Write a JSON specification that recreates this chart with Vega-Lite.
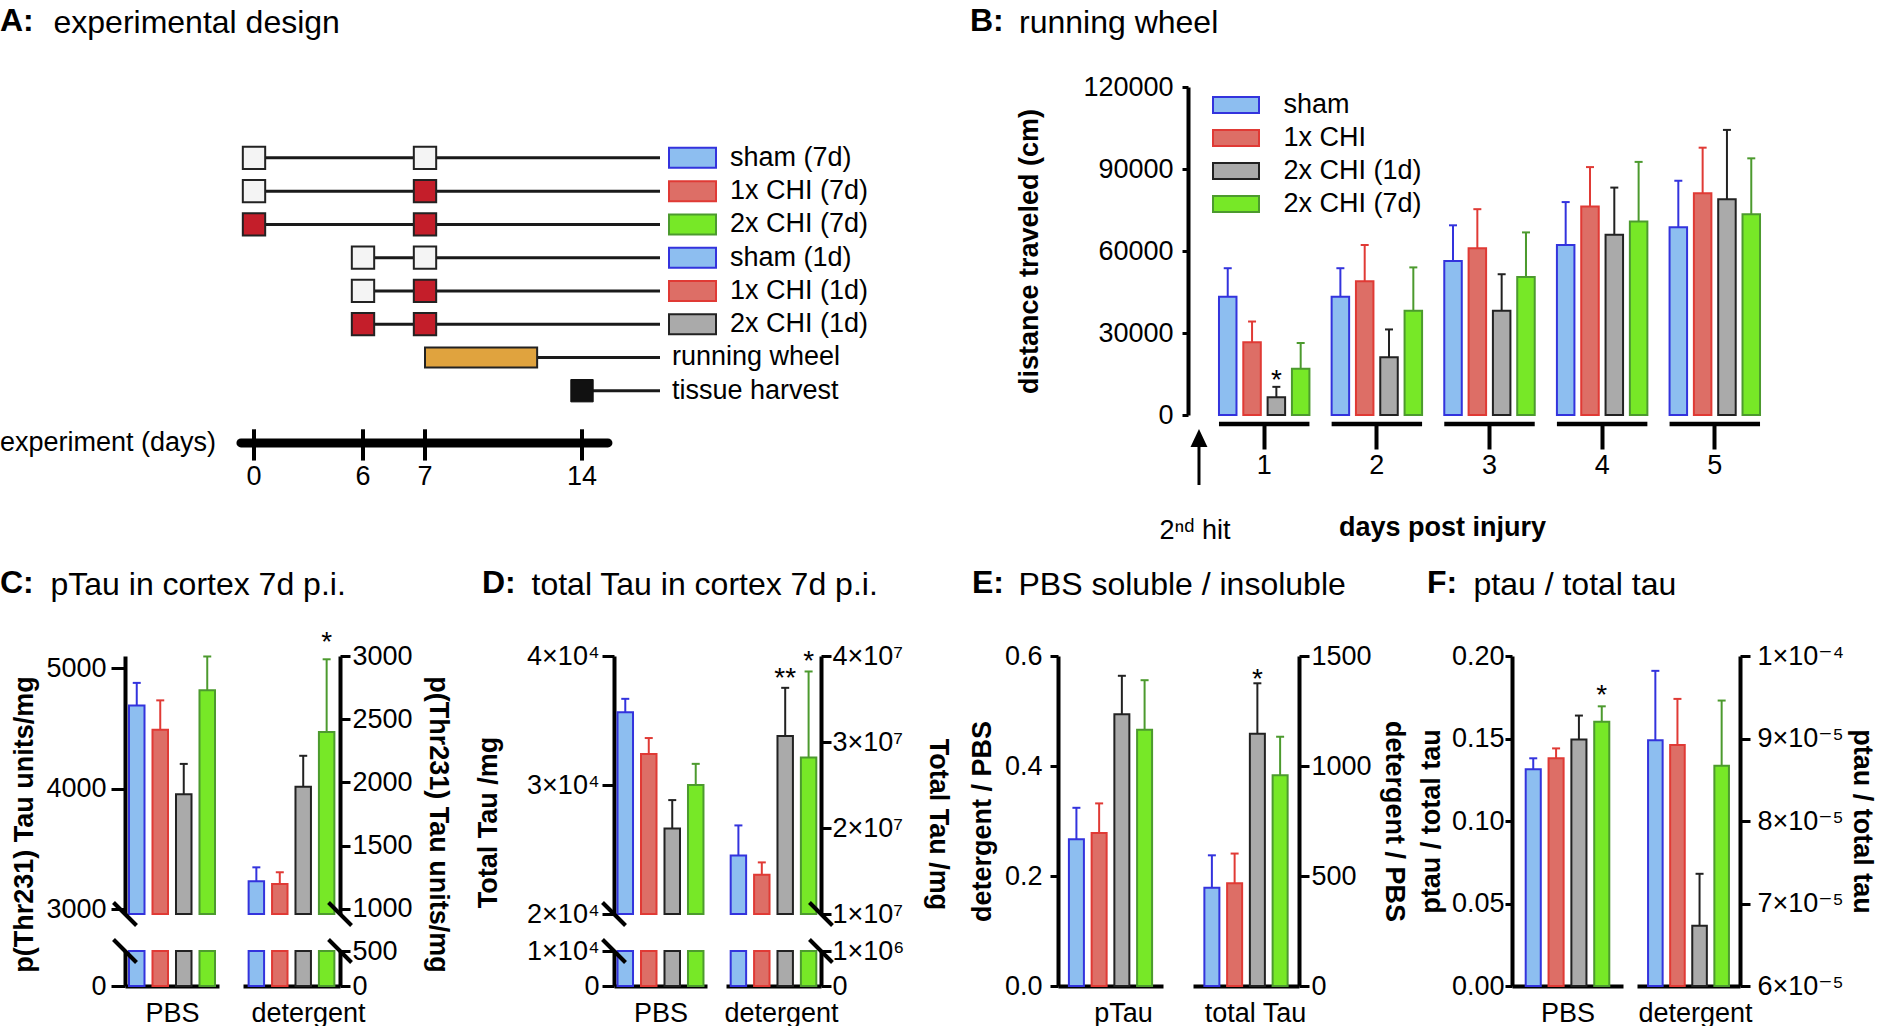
{
 "$schema": "https://vega.github.io/schema/vega-lite/v6.json",
 "padding": {"left": 0, "top": 5, "right": 0, "bottom": 0},
 "background": "white",
 "datasets": {
  "running": [
   {"day":"1","grp":"sham","v":43300,"hi":53700,"sig":""},
   {"day":"1","grp":"1x CHI","v":26600,"hi":34200,"sig":""},
   {"day":"1","grp":"2x CHI (1d)","v":6500,"hi":10300,"sig":"*"},
   {"day":"1","grp":"2x CHI (7d)","v":16950,"hi":26350,"sig":""},
   {"day":"2","grp":"sham","v":43300,"hi":53700,"sig":""},
   {"day":"2","grp":"1x CHI","v":48900,"hi":62200,"sig":""},
   {"day":"2","grp":"2x CHI (1d)","v":21100,"hi":31300,"sig":""},
   {"day":"2","grp":"2x CHI (7d)","v":38100,"hi":54000,"sig":""},
   {"day":"3","grp":"sham","v":56350,"hi":69400,"sig":""},
   {"day":"3","grp":"1x CHI","v":61000,"hi":75300,"sig":""},
   {"day":"3","grp":"2x CHI (1d)","v":38100,"hi":51500,"sig":""},
   {"day":"3","grp":"2x CHI (7d)","v":50500,"hi":66800,"sig":""},
   {"day":"4","grp":"sham","v":62200,"hi":77900,"sig":""},
   {"day":"4","grp":"1x CHI","v":76300,"hi":90700,"sig":""},
   {"day":"4","grp":"2x CHI (1d)","v":65900,"hi":83200,"sig":""},
   {"day":"4","grp":"2x CHI (7d)","v":70800,"hi":92600,"sig":""},
   {"day":"5","grp":"sham","v":68700,"hi":85700,"sig":""},
   {"day":"5","grp":"1x CHI","v":81100,"hi":97800,"sig":""},
   {"day":"5","grp":"2x CHI (1d)","v":78900,"hi":104300,"sig":""},
   {"day":"5","grp":"2x CHI (7d)","v":73400,"hi":93900,"sig":""}
  ],
  "tau": [
   {"panel":"C","frac":"PBS","grp":"sham","v":4690,"hi":4877,"sig":""},
   {"panel":"C","frac":"PBS","grp":"1x CHI","v":4488,"hi":4732,"sig":""},
   {"panel":"C","frac":"PBS","grp":"2x CHI (1d)","v":3953,"hi":4205,"sig":""},
   {"panel":"C","frac":"PBS","grp":"2x CHI (7d)","v":4816,"hi":5096,"sig":""},
   {"panel":"C","frac":"detergent","grp":"sham","v":1218,"hi":1329,"sig":""},
   {"panel":"C","frac":"detergent","grp":"1x CHI","v":1197,"hi":1290,"sig":""},
   {"panel":"C","frac":"detergent","grp":"2x CHI (1d)","v":1966,"hi":2211,"sig":""},
   {"panel":"C","frac":"detergent","grp":"2x CHI (7d)","v":2400,"hi":2974,"sig":"*"},
   {"panel":"D","frac":"PBS","grp":"sham","v":35640,"hi":36680,"sig":""},
   {"panel":"D","frac":"PBS","grp":"1x CHI","v":32400,"hi":33640,"sig":""},
   {"panel":"D","frac":"PBS","grp":"2x CHI (1d)","v":26630,"hi":28830,"sig":""},
   {"panel":"D","frac":"PBS","grp":"2x CHI (7d)","v":30000,"hi":31640,"sig":""},
   {"panel":"D","frac":"detergent","grp":"sham","v":16800000,"hi":20300000,"sig":""},
   {"panel":"D","frac":"detergent","grp":"1x CHI","v":14560000,"hi":16000000,"sig":""},
   {"panel":"D","frac":"detergent","grp":"2x CHI (1d)","v":30700000,"hi":36300000,"sig":"**"},
   {"panel":"D","frac":"detergent","grp":"2x CHI (7d)","v":28200000,"hi":38200000,"sig":"*"},
   {"panel":"E","frac":"pTau","grp":"sham","v":0.267,"hi":0.324,"sig":""},
   {"panel":"E","frac":"pTau","grp":"1x CHI","v":0.278,"hi":0.332,"sig":""},
   {"panel":"E","frac":"pTau","grp":"2x CHI (1d)","v":0.494,"hi":0.564,"sig":""},
   {"panel":"E","frac":"pTau","grp":"2x CHI (7d)","v":0.466,"hi":0.556,"sig":""},
   {"panel":"E","frac":"total Tau","grp":"sham","v":447,"hi":594,"sig":""},
   {"panel":"E","frac":"total Tau","grp":"1x CHI","v":467,"hi":602,"sig":""},
   {"panel":"E","frac":"total Tau","grp":"2x CHI (1d)","v":1147,"hi":1376,"sig":"*"},
   {"panel":"E","frac":"total Tau","grp":"2x CHI (7d)","v":958,"hi":1133,"sig":""},
   {"panel":"F","frac":"PBS","grp":"sham","v":0.1314,"hi":0.138,"sig":""},
   {"panel":"F","frac":"PBS","grp":"1x CHI","v":0.138,"hi":0.144,"sig":""},
   {"panel":"F","frac":"PBS","grp":"2x CHI (1d)","v":0.1494,"hi":0.1639,"sig":""},
   {"panel":"F","frac":"PBS","grp":"2x CHI (7d)","v":0.1601,"hi":0.1695,"sig":"*"},
   {"panel":"F","frac":"detergent","grp":"sham","v":0.0000898,"hi":0.0000982,"sig":""},
   {"panel":"F","frac":"detergent","grp":"1x CHI","v":0.0000892,"hi":0.0000948,"sig":""},
   {"panel":"F","frac":"detergent","grp":"2x CHI (1d)","v":0.0000673,"hi":0.0000736,"sig":""},
   {"panel":"F","frac":"detergent","grp":"2x CHI (7d)","v":0.0000867,"hi":0.0000946,"sig":""}
  ],
  "segments": [
   {"lane":1,"from":0,"to":18},{"lane":2,"from":0,"to":18},{"lane":3,"from":0,"to":18},
   {"lane":4,"from":6,"to":18},{"lane":5,"from":6,"to":18},{"lane":6,"from":6,"to":18},
   {"lane":7,"from":12,"to":18},{"lane":8,"from":14,"to":18}
  ],
  "hits": [
   {"lane":1,"day":0,"hit":false},{"lane":1,"day":7,"hit":false},
   {"lane":2,"day":0,"hit":false},{"lane":2,"day":7,"hit":true},
   {"lane":3,"day":0,"hit":true},{"lane":3,"day":7,"hit":true},
   {"lane":4,"day":6,"hit":false},{"lane":4,"day":7,"hit":false},
   {"lane":5,"day":6,"hit":false},{"lane":5,"day":7,"hit":true},
   {"lane":6,"day":6,"hit":true},{"lane":6,"day":7,"hit":true}
  ],
  "lanes": [
   {"lane":1,"label":"sham (7d)","grp":"sham"},
   {"lane":2,"label":"1x CHI (7d)","grp":"1x CHI"},
   {"lane":3,"label":"2x CHI (7d)","grp":"2x CHI (7d)"},
   {"lane":4,"label":"sham (1d)","grp":"sham"},
   {"lane":5,"label":"1x CHI (1d)","grp":"1x CHI"},
   {"lane":6,"label":"2x CHI (1d)","grp":"2x CHI (1d)"}
  ],
  "events": [
   {"lane":7,"label":"running wheel","start":7,"stop":12},
   {"lane":8,"label":"tissue harvest","start":14}
  ],
  "ticksA": [{"day":0},{"day":6},{"day":7},{"day":14}],
  "timeline": [{"from":-0.72,"to":15.33,"label":"experiment (days)"}],
  "notes": [{"day":"1","note":"2ⁿᵈ hit"}]
 },
 "vconcat": [
  {
   "hconcat": [
    {
     "width": 775, "height": 328,
     "title": {"text":"A:","dx":-125,"offset":-32},
     "layer": [
      {"data":{"name":"segments"},"mark":{"type":"rule","strokeWidth":3,"color":"#1a1a1a"},
       "encoding":{"x":{"field":"from","type":"quantitative","scale":{"domain":[-14,0,6,7,14,18,22],"range":[-125,129,238,300,457,535,615],"zero":false,"nice":false},
                        "axis":{"orient":"top","domain":false,"ticks":false,"labels":false,"grid":false,"title":"experimental design","titleX":-72,"titleY":-55,"titleAlign":"left","titleBaseline":"alphabetic","titleFontSize":32,"titleFontWeight":"normal"}},
                   "x2":{"field":"to"},
                   "y":{"field":"lane","type":"quantitative","scale":{"domain":[-0.98,8.58],"reverse":true,"zero":false,"nice":false},"axis":null}}},
      {"data":{"name":"hits"},"transform":[{"filter":"!datum.hit"}],
       "mark":{"type":"point","shape":"square","size":500,"filled":true,"fill":"#F4F4F4","stroke":"#222222","strokeWidth":2,"opacity":1},
       "encoding":{"x":{"field":"day","type":"quantitative"},"y":{"field":"lane","type":"quantitative"}}},
      {"data":{"name":"hits"},"transform":[{"filter":"datum.hit"}],
       "mark":{"type":"point","shape":"square","size":500,"filled":true,"fill":"#C41E2A","stroke":"#222222","strokeWidth":2,"opacity":1},
       "encoding":{"x":{"field":"day","type":"quantitative"},"y":{"field":"lane","type":"quantitative"}}},
      {"data":{"name":"events"},"transform":[{"filter":"datum.stop != null"}],
       "mark":{"type":"bar","height":20,"fill":"#E0A33E","stroke":"#222222","strokeWidth":2},
       "encoding":{"x":{"field":"start","type":"quantitative"},"x2":{"field":"stop"},"y":{"field":"lane","type":"quantitative"}}},
      {"data":{"name":"events"},"transform":[{"filter":"datum.stop == null"}],
       "mark":{"type":"point","shape":"square","size":500,"filled":true,"fill":"#111111","stroke":"#111111","strokeWidth":1,"opacity":1},
       "encoding":{"x":{"field":"start","type":"quantitative"},"y":{"field":"lane","type":"quantitative"}}},
      {"data":{"name":"events"},"mark":{"type":"text","align":"left","baseline":"middle","fontSize":27},
       "encoding":{"x":{"datum":18.6},"y":{"field":"lane","type":"quantitative"},"text":{"field":"label"}}},
      {"data":{"name":"lanes"},"mark":{"type":"bar","height":20,"strokeWidth":2},
       "encoding":{"x":{"datum":18.45},"x2":{"datum":20.8},"y":{"field":"lane","type":"quantitative"},
        "fill":{"field":"grp","type":"nominal","scale":{"domain":["sham","1x CHI","2x CHI (1d)","2x CHI (7d)"],"range":["#8DBEF0","#DD6E66","#AAAAAA","#77E827"]},"legend":null},
        "stroke":{"field":"grp","type":"nominal","scale":{"domain":["sham","1x CHI","2x CHI (1d)","2x CHI (7d)"],"range":["#3333DD","#E03A35","#222222","#4C9A2E"]},"legend":null}}},
      {"data":{"name":"lanes"},"mark":{"type":"text","align":"left","baseline":"middle","fontSize":27},
       "encoding":{"x":{"datum":21.5},"y":{"field":"lane","type":"quantitative"},"text":{"field":"label"}}},
      {"data":{"name":"timeline"},"mark":{"type":"rule","strokeWidth":9,"strokeCap":"round","color":"#000000"},
       "encoding":{"x":{"field":"from","type":"quantitative"},"x2":{"field":"to"},"y":{"datum":9.57}}},
      {"data":{"name":"timeline"},"mark":{"type":"text","align":"left","baseline":"middle","fontSize":27},
       "encoding":{"x":{"datum":-14},"y":{"datum":9.57},"text":{"field":"label"}}},
      {"data":{"name":"ticksA"},"mark":{"type":"rule","strokeWidth":4,"color":"#000000"},
       "encoding":{"x":{"field":"day","type":"quantitative"},"y":{"datum":9.16},"y2":{"datum":10.1}}},
      {"data":{"name":"ticksA"},"mark":{"type":"text","baseline":"middle","fontSize":27},
       "encoding":{"x":{"field":"day","type":"quantitative"},"y":{"datum":10.6},"text":{"field":"day","type":"quantitative"}}}
     ]
    },
    {
     "width": 603, "height": 328,
     "title": {"text":"B:","dx":-218,"offset":-32},
     "resolve": {"axis": {"x": "independent"}},
     "layer": [
      {"data":{"name":"running"},"mark":{"type":"bar","strokeWidth":2},
       "encoding":{
        "x":{"field":"day","type":"ordinal","scale":{"domain":["1","2","3","4","5"],"paddingInner":0.197,"paddingOuter":0.275},
             "axis":{"title":"days post injury","domain":false,"ticks":true,"tickSize":25,"tickWidth":4,"labelAngle":0,"labelPadding":3,"offset":9,"titlePadding":36,"titleX":254}},
        "xOffset":{"field":"grp","type":"nominal","scale":{"domain":["sham","1x CHI","2x CHI (1d)","2x CHI (7d)"],"paddingInner":0.28,"paddingOuter":0}},
        "y":{"field":"v","type":"quantitative","scale":{"domain":[0,120000],"nice":false},
             "axis":{"values":[0,30000,60000,90000,120000],"format":"d","title":"distance traveled (cm)","tickSize":6,"labelPadding":9,"titlePadding":39.5}},
        "fill":{"field":"grp","type":"nominal","scale":{"domain":["sham","1x CHI","2x CHI (1d)","2x CHI (7d)"],"range":["#8DBEF0","#DD6E66","#AAAAAA","#77E827"]},
                "legend":{"orient":"none","legendX":34.5,"legendY":4.5,"title":null,"symbolType":"M-2,-0.7L2,-0.7L2,0.7L-2,0.7Z","symbolSize":529,"symbolStrokeWidth":2,"labelFontSize":27,"labelOffset":34,"rowPadding":5,"padding":0,"labelColor":"#000000"}},
        "stroke":{"field":"grp","type":"nominal","scale":{"domain":["sham","1x CHI","2x CHI (1d)","2x CHI (7d)"],"range":["#3333DD","#E03A35","#222222","#4C9A2E"]},
                "legend":{"orient":"none","legendX":34.5,"legendY":4.5,"title":null,"symbolType":"M-2,-0.7L2,-0.7L2,0.7L-2,0.7Z","symbolSize":529,"symbolStrokeWidth":2,"labelFontSize":27,"labelOffset":34,"rowPadding":5,"padding":0,"labelColor":"#000000"}}
       }},
      {"data":{"name":"running"},"mark":{"type":"rule","strokeWidth":2},
       "encoding":{"x":{"field":"day","type":"ordinal","axis":{"orient":"top","domain":false,"ticks":false,"labels":false,"title":"running wheel","titleX":-169.5,"titleY":-55,"titleAlign":"left","titleBaseline":"alphabetic","titleFontSize":32,"titleFontWeight":"normal"}},
        "xOffset":{"field":"grp","type":"nominal"},
        "y":{"field":"v","type":"quantitative"},"y2":{"field":"hi"},
        "stroke":{"field":"grp","type":"nominal","scale":{"domain":["sham","1x CHI","2x CHI (1d)","2x CHI (7d)"],"range":["#3333DD","#E03A35","#222222","#4C9A2E"]}}}},
      {"data":{"name":"running"},"mark":{"type":"point","shape":"M-1,0L1,0","size":64,"strokeWidth":2,"filled":false,"opacity":1},
       "encoding":{"x":{"field":"day","type":"ordinal","axis":null},"xOffset":{"field":"grp","type":"nominal"},
        "y":{"field":"hi","type":"quantitative"},
        "stroke":{"field":"grp","type":"nominal","scale":{"domain":["sham","1x CHI","2x CHI (1d)","2x CHI (7d)"],"range":["#3333DD","#E03A35","#222222","#4C9A2E"]}}}},
      {"data":{"name":"running"},"mark":{"type":"text","fontSize":28,"dy":-6},
       "encoding":{"x":{"field":"day","type":"ordinal","axis":null},"xOffset":{"field":"grp","type":"nominal"},
        "y":{"field":"hi","type":"quantitative"},"text":{"field":"sig"}}},
      {"data":{"name":"running"},"transform":[{"filter":"datum.grp === 'sham'"}],"mark":{"type":"bar","color":"#000000"},
       "encoding":{"x":{"field":"day","type":"ordinal","axis":null},"y":{"datum":-2500},"y2":{"datum":-4100}}},
      {"data":{"name":"notes"},"mark":{"type":"rule","strokeWidth":3,"color":"#000000"},
       "encoding":{"x":{"field":"day","type":"ordinal","bandPosition":-0.221,"axis":null},"y":{"datum":-11700},"y2":{"datum":-25600}}},
      {"data":{"name":"notes"},"mark":{"type":"point","shape":"M0,-1L0.47,0L-0.47,0Z","size":1296,"filled":true,"color":"#000000","opacity":1},
       "encoding":{"x":{"field":"day","type":"ordinal","bandPosition":-0.221,"axis":null},"y":{"datum":-11700}}},
      {"data":{"name":"notes"},"mark":{"type":"text","fontSize":27,"baseline":"alphabetic"},
       "encoding":{"x":{"field":"day","type":"ordinal","bandPosition":-0.265,"axis":null},"y":{"datum":-45400},"text":{"field":"note"}}}
     ]
    }
   ],
   "spacing": 70,
   "resolve": {"scale": {"fill": "independent", "stroke": "independent"}}
  },
  {
   "hconcat": [
    {
     "hconcat": [
      {
       "width": 94, "height": 330,
       "data": {"name":"tau"},
       "transform": [{"filter":"datum.panel === 'C' && datum.frac === 'PBS'"}],
       "title": {"text":"C:","dx":-125,"offset":-32},
       "resolve": {"scale": {"y":"independent"}, "axis": {"x":"independent","y":"independent"}},
       "layer": [
        {"layer": [
          {"mark":{"type":"bar","strokeWidth":2},
           "encoding":{"x":{"field":"grp","type":"nominal","scale":{"domain":["sham","1x CHI","2x CHI (1d)","2x CHI (7d)"],"paddingInner":0.34,"paddingOuter":0.17},
                            "axis":{"orient":"top","domain":false,"ticks":false,"labels":false,"title":"pTau in cortex 7d p.i.","titleX":-75,"titleY":-62,"titleAlign":"left","titleBaseline":"alphabetic","titleFontSize":32,"titleFontWeight":"normal"}},
                       "y":{"field":"v","type":"quantitative","scale":{"domain":[2960,5100],"range":[258,0],"nice":false,"zero":false},
                            "axis":{"orient":"left","values":[3000,4000,5000],"format":"d","title":"p(Thr231) Tau units/mg","titleY":168,"tickSize":14,"labelPadding":5,"titlePadding":7.5}},
                       "y2":{"datum":2960},
                       "fill":{"field":"grp","type":"nominal","scale":{"domain":["sham","1x CHI","2x CHI (1d)","2x CHI (7d)"],"range":["#8DBEF0","#DD6E66","#AAAAAA","#77E827"]},"legend":null},
                       "stroke":{"field":"grp","type":"nominal","scale":{"domain":["sham","1x CHI","2x CHI (1d)","2x CHI (7d)"],"range":["#3333DD","#E03A35","#222222","#4C9A2E"]},"legend":null}}},
          {"mark":{"type":"rule","strokeWidth":2},
           "encoding":{"x":{"field":"grp","type":"nominal"},"y":{"field":"v","type":"quantitative"},"y2":{"field":"hi"},
                       "stroke":{"field":"grp","type":"nominal","scale":{"domain":["sham","1x CHI","2x CHI (1d)","2x CHI (7d)"],"range":["#3333DD","#E03A35","#222222","#4C9A2E"]},"legend":null}}},
          {"mark":{"type":"point","shape":"M-1,0L1,0","size":64,"strokeWidth":2,"filled":false,"opacity":1},
           "encoding":{"x":{"field":"grp","type":"nominal"},"y":{"field":"hi","type":"quantitative"},
                       "stroke":{"field":"grp","type":"nominal","scale":{"domain":["sham","1x CHI","2x CHI (1d)","2x CHI (7d)"],"range":["#3333DD","#E03A35","#222222","#4C9A2E"]},"legend":null}}},
          {"transform":[{"filter":"datum.grp === 'sham'"}],
           "mark":{"type":"point","shape":"M-1,-1L1,1","size":529,"filled":false,"stroke":"#000000","strokeWidth":4,"opacity":1},
           "encoding":{"x":{"field":"grp","type":"nominal","bandPosition":-0.258},"y":{"datum":2960}}}
        ]},
        {"layer": [
          {"mark":{"type":"bar","strokeWidth":2},
           "encoding":{"x":{"field":"grp","type":"nominal","axis":{"title":"PBS","labels":false,"ticks":false,"titleFontWeight":"normal","titlePadding":14}},
                       "y":{"datum":1000,"type":"quantitative","scale":{"domain":[0,1000],"range":[330,295],"nice":false},"axis":{"orient":"left","values":[0],"title":null,"tickSize":14,"labelPadding":5}},
                       "y2":{"datum":0},
                       "fill":{"field":"grp","type":"nominal","scale":{"domain":["sham","1x CHI","2x CHI (1d)","2x CHI (7d)"],"range":["#8DBEF0","#DD6E66","#AAAAAA","#77E827"]},"legend":null},
                       "stroke":{"field":"grp","type":"nominal","scale":{"domain":["sham","1x CHI","2x CHI (1d)","2x CHI (7d)"],"range":["#3333DD","#E03A35","#222222","#4C9A2E"]},"legend":null}}},
          {"transform":[{"filter":"datum.grp === 'sham'"}],
           "mark":{"type":"point","shape":"M-1,-1L1,1","size":529,"filled":false,"stroke":"#000000","strokeWidth":4,"opacity":1},
           "encoding":{"x":{"field":"grp","type":"nominal","bandPosition":-0.258},"y":{"datum":1000}}}
        ]}
       ]
      },
      {
       "width": 97, "height": 330,
       "data": {"name":"tau"},
       "transform": [{"filter":"datum.panel === 'C' && datum.frac === 'detergent'"}],
       "resolve": {"scale": {"y":"independent"}, "axis": {"x":"independent","y":"independent"}},
       "layer": [
        {"layer": [
          {"mark":{"type":"bar","strokeWidth":2},
           "encoding":{"x":{"field":"grp","type":"nominal","scale":{"domain":["sham","1x CHI","2x CHI (1d)","2x CHI (7d)"],"paddingInner":0.34,"paddingOuter":0.24},"axis":null},
                       "y":{"field":"v","type":"quantitative","scale":{"domain":[960,3000],"range":[258,0],"nice":false,"zero":false},
                            "axis":{"orient":"right","values":[1000,1500,2000,2500,3000],"format":"d","title":"p(Thr231) Tau units/mg","titleY":168,"tickSize":10,"labelPadding":2,"titlePadding":11.5}},
                       "y2":{"datum":960},
                       "fill":{"field":"grp","type":"nominal","scale":{"domain":["sham","1x CHI","2x CHI (1d)","2x CHI (7d)"],"range":["#8DBEF0","#DD6E66","#AAAAAA","#77E827"]},"legend":null},
                       "stroke":{"field":"grp","type":"nominal","scale":{"domain":["sham","1x CHI","2x CHI (1d)","2x CHI (7d)"],"range":["#3333DD","#E03A35","#222222","#4C9A2E"]},"legend":null}}},
          {"mark":{"type":"rule","strokeWidth":2},
           "encoding":{"x":{"field":"grp","type":"nominal","axis":null},"y":{"field":"v","type":"quantitative"},"y2":{"field":"hi"},
                       "stroke":{"field":"grp","type":"nominal","scale":{"domain":["sham","1x CHI","2x CHI (1d)","2x CHI (7d)"],"range":["#3333DD","#E03A35","#222222","#4C9A2E"]},"legend":null}}},
          {"mark":{"type":"point","shape":"M-1,0L1,0","size":64,"strokeWidth":2,"filled":false,"opacity":1},
           "encoding":{"x":{"field":"grp","type":"nominal","axis":null},"y":{"field":"hi","type":"quantitative"},
                       "stroke":{"field":"grp","type":"nominal","scale":{"domain":["sham","1x CHI","2x CHI (1d)","2x CHI (7d)"],"range":["#3333DD","#E03A35","#222222","#4C9A2E"]},"legend":null}}},
          {"mark":{"type":"text","fontSize":28,"dy":-16},
           "encoding":{"x":{"field":"grp","type":"nominal","axis":null},"y":{"field":"hi","type":"quantitative"},"text":{"field":"sig"}}},
          {"transform":[{"filter":"datum.grp === '2x CHI (7d)'"}],
           "mark":{"type":"point","shape":"M-1,-1L1,1","size":529,"filled":false,"stroke":"#000000","strokeWidth":4,"opacity":1},
           "encoding":{"x":{"field":"grp","type":"nominal","bandPosition":1.365,"axis":null},"y":{"datum":960}}}
        ]},
        {"layer": [
          {"mark":{"type":"bar","strokeWidth":2},
           "encoding":{"x":{"field":"grp","type":"nominal","axis":{"title":"detergent","labels":false,"ticks":false,"titleFontWeight":"normal","titlePadding":14,"titleX":65}},
                       "y":{"datum":500,"type":"quantitative","scale":{"domain":[0,500],"range":[330,295],"nice":false},"axis":{"orient":"right","values":[0,500],"title":null,"tickSize":10,"labelPadding":2}},
                       "y2":{"datum":0},
                       "fill":{"field":"grp","type":"nominal","scale":{"domain":["sham","1x CHI","2x CHI (1d)","2x CHI (7d)"],"range":["#8DBEF0","#DD6E66","#AAAAAA","#77E827"]},"legend":null},
                       "stroke":{"field":"grp","type":"nominal","scale":{"domain":["sham","1x CHI","2x CHI (1d)","2x CHI (7d)"],"range":["#3333DD","#E03A35","#222222","#4C9A2E"]},"legend":null}}},
          {"transform":[{"filter":"datum.grp === '2x CHI (7d)'"}],
           "mark":{"type":"point","shape":"M-1,-1L1,1","size":529,"filled":false,"stroke":"#000000","strokeWidth":4,"opacity":1},
           "encoding":{"x":{"field":"grp","type":"nominal","bandPosition":1.365},"y":{"datum":500}}}
        ]}
       ]
      }
     ],
     "spacing": 24, "bounds": "flush"
    },
    {
     "hconcat": [
      {
       "hconcat": [
        {
         "width": 93, "height": 330,
         "data": {"name":"tau"},
         "transform": [{"filter":"datum.panel === 'D' && datum.frac === 'PBS'"}],
         "title": {"text":"D:","dx":-132,"offset":-32},
         "resolve": {"scale": {"y":"independent"}, "axis": {"x":"independent","y":"independent"}},
         "layer": [
          {"layer": [
            {"mark":{"type":"bar","strokeWidth":2},
             "encoding":{"x":{"field":"grp","type":"nominal","scale":{"domain":["sham","1x CHI","2x CHI (1d)","2x CHI (7d)"],"paddingInner":0.34,"paddingOuter":0.15},
                              "axis":{"orient":"top","domain":false,"ticks":false,"labels":false,"title":"total Tau in cortex 7d p.i.","titleX":-83,"titleY":-62,"titleAlign":"left","titleBaseline":"alphabetic","titleFontSize":32,"titleFontWeight":"normal"}},
                         "y":{"field":"v","type":"quantitative","scale":{"domain":[20000,40000],"range":[258,0],"nice":false,"zero":false},
                              "axis":{"orient":"left","values":[20000,30000,40000],"labelExpr":"format(datum.value/10000,'d') + '×10⁴'","title":"Total Tau /mg","titleY":166,"tickSize":12,"labelPadding":3,"titlePadding":24}},
                         "y2":{"datum":20000},
                         "fill":{"field":"grp","type":"nominal","scale":{"domain":["sham","1x CHI","2x CHI (1d)","2x CHI (7d)"],"range":["#8DBEF0","#DD6E66","#AAAAAA","#77E827"]},"legend":null},
                         "stroke":{"field":"grp","type":"nominal","scale":{"domain":["sham","1x CHI","2x CHI (1d)","2x CHI (7d)"],"range":["#3333DD","#E03A35","#222222","#4C9A2E"]},"legend":null}}},
            {"mark":{"type":"rule","strokeWidth":2},
             "encoding":{"x":{"field":"grp","type":"nominal"},"y":{"field":"v","type":"quantitative"},"y2":{"field":"hi"},
                         "stroke":{"field":"grp","type":"nominal","scale":{"domain":["sham","1x CHI","2x CHI (1d)","2x CHI (7d)"],"range":["#3333DD","#E03A35","#222222","#4C9A2E"]},"legend":null}}},
            {"mark":{"type":"point","shape":"M-1,0L1,0","size":64,"strokeWidth":2,"filled":false,"opacity":1},
             "encoding":{"x":{"field":"grp","type":"nominal"},"y":{"field":"hi","type":"quantitative"},
                         "stroke":{"field":"grp","type":"nominal","scale":{"domain":["sham","1x CHI","2x CHI (1d)","2x CHI (7d)"],"range":["#3333DD","#E03A35","#222222","#4C9A2E"]},"legend":null}}},
            {"transform":[{"filter":"datum.grp === 'sham'"}],
             "mark":{"type":"point","shape":"M-1,-1L1,1","size":529,"filled":false,"stroke":"#000000","strokeWidth":4,"opacity":1},
             "encoding":{"x":{"field":"grp","type":"nominal","bandPosition":-0.227},"y":{"datum":20000}}}
          ]},
          {"layer": [
            {"mark":{"type":"bar","strokeWidth":2},
             "encoding":{"x":{"field":"grp","type":"nominal","axis":{"title":"PBS","labels":false,"ticks":false,"titleFontWeight":"normal","titlePadding":14}},
                         "y":{"datum":10000,"type":"quantitative","scale":{"domain":[0,10000],"range":[330,295],"nice":false},"axis":{"orient":"left","values":[0,10000],"labelExpr":"datum.value == 0 ? '0' : '1×10⁴'","title":null,"tickSize":12,"labelPadding":3}},
                         "y2":{"datum":0},
                         "fill":{"field":"grp","type":"nominal","scale":{"domain":["sham","1x CHI","2x CHI (1d)","2x CHI (7d)"],"range":["#8DBEF0","#DD6E66","#AAAAAA","#77E827"]},"legend":null},
                         "stroke":{"field":"grp","type":"nominal","scale":{"domain":["sham","1x CHI","2x CHI (1d)","2x CHI (7d)"],"range":["#3333DD","#E03A35","#222222","#4C9A2E"]},"legend":null}}},
            {"transform":[{"filter":"datum.grp === 'sham'"}],
             "mark":{"type":"point","shape":"M-1,-1L1,1","size":529,"filled":false,"stroke":"#000000","strokeWidth":4,"opacity":1},
             "encoding":{"x":{"field":"grp","type":"nominal","bandPosition":-0.227},"y":{"datum":10000}}}
          ]}
         ]
        },
        {
         "width": 95, "height": 330,
         "data": {"name":"tau"},
         "transform": [{"filter":"datum.panel === 'D' && datum.frac === 'detergent'"}],
         "resolve": {"scale": {"y":"independent"}, "axis": {"x":"independent","y":"independent"}},
         "layer": [
          {"layer": [
            {"mark":{"type":"bar","strokeWidth":2},
             "encoding":{"x":{"field":"grp","type":"nominal","scale":{"domain":["sham","1x CHI","2x CHI (1d)","2x CHI (7d)"],"paddingInner":0.34,"paddingOuter":0.2},"axis":null},
                         "y":{"field":"v","type":"quantitative","scale":{"domain":[10000000,40000000],"range":[258,0],"nice":false,"zero":false},
                              "axis":{"orient":"right","values":[10000000,20000000,30000000,40000000],"labelExpr":"format(datum.value/10000000,'d') + '×10⁷'","title":"Total Tau /mg","titleY":168,"tickSize":10,"labelPadding":1,"titlePadding":20.5}},
                         "y2":{"datum":10000000},
                         "fill":{"field":"grp","type":"nominal","scale":{"domain":["sham","1x CHI","2x CHI (1d)","2x CHI (7d)"],"range":["#8DBEF0","#DD6E66","#AAAAAA","#77E827"]},"legend":null},
                         "stroke":{"field":"grp","type":"nominal","scale":{"domain":["sham","1x CHI","2x CHI (1d)","2x CHI (7d)"],"range":["#3333DD","#E03A35","#222222","#4C9A2E"]},"legend":null}}},
            {"mark":{"type":"rule","strokeWidth":2},
             "encoding":{"x":{"field":"grp","type":"nominal","axis":null},"y":{"field":"v","type":"quantitative"},"y2":{"field":"hi"},
                         "stroke":{"field":"grp","type":"nominal","scale":{"domain":["sham","1x CHI","2x CHI (1d)","2x CHI (7d)"],"range":["#3333DD","#E03A35","#222222","#4C9A2E"]},"legend":null}}},
            {"mark":{"type":"point","shape":"M-1,0L1,0","size":64,"strokeWidth":2,"filled":false,"opacity":1},
             "encoding":{"x":{"field":"grp","type":"nominal","axis":null},"y":{"field":"hi","type":"quantitative"},
                         "stroke":{"field":"grp","type":"nominal","scale":{"domain":["sham","1x CHI","2x CHI (1d)","2x CHI (7d)"],"range":["#3333DD","#E03A35","#222222","#4C9A2E"]},"legend":null}}},
            {"mark":{"type":"text","fontSize":28,"dy":-9},
             "encoding":{"x":{"field":"grp","type":"nominal","axis":null},"y":{"field":"hi","type":"quantitative"},"text":{"field":"sig"}}},
            {"transform":[{"filter":"datum.grp === '2x CHI (7d)'"}],
             "mark":{"type":"point","shape":"M-1,-1L1,1","size":529,"filled":false,"stroke":"#000000","strokeWidth":4,"opacity":1},
             "encoding":{"x":{"field":"grp","type":"nominal","bandPosition":1.3,"axis":null},"y":{"datum":10000000}}}
          ]},
          {"layer": [
            {"mark":{"type":"bar","strokeWidth":2},
             "encoding":{"x":{"field":"grp","type":"nominal","axis":{"title":"detergent","labels":false,"ticks":false,"titleFontWeight":"normal","titlePadding":14,"titleX":55}},
                         "y":{"datum":1000000,"type":"quantitative","scale":{"domain":[0,1000000],"range":[330,295],"nice":false},"axis":{"orient":"right","values":[0,1000000],"labelExpr":"datum.value == 0 ? '0' : '1×10⁶'","title":null,"tickSize":10,"labelPadding":1}},
                         "y2":{"datum":0},
                         "fill":{"field":"grp","type":"nominal","scale":{"domain":["sham","1x CHI","2x CHI (1d)","2x CHI (7d)"],"range":["#8DBEF0","#DD6E66","#AAAAAA","#77E827"]},"legend":null},
                         "stroke":{"field":"grp","type":"nominal","scale":{"domain":["sham","1x CHI","2x CHI (1d)","2x CHI (7d)"],"range":["#3333DD","#E03A35","#222222","#4C9A2E"]},"legend":null}}},
            {"transform":[{"filter":"datum.grp === '2x CHI (7d)'"}],
             "mark":{"type":"point","shape":"M-1,-1L1,1","size":529,"filled":false,"stroke":"#000000","strokeWidth":4,"opacity":1},
             "encoding":{"x":{"field":"grp","type":"nominal","bandPosition":1.3},"y":{"datum":1000000}}}
          ]}
         ]
        }
       ],
       "spacing": 19, "bounds": "flush"
      },
      {
       "hconcat": [
        {
         "hconcat": [
          {
           "width": 105, "height": 330,
           "data": {"name":"tau"},
           "transform": [{"filter":"datum.panel === 'E' && datum.frac === 'pTau'"}],
           "title": {"text":"E:","dx":-86,"offset":-32},
           "resolve": {"axis": {"x":"independent"}},
           "layer": [
            {"mark":{"type":"bar","strokeWidth":2},
             "encoding":{"x":{"field":"grp","type":"nominal","scale":{"domain":["sham","1x CHI","2x CHI (1d)","2x CHI (7d)"],"paddingInner":0.34,"paddingOuter":0.48},
                              "axis":{"title":"pTau","labels":false,"ticks":false,"titleFontWeight":"normal","titlePadding":14,"titleX":65}},
                         "y":{"field":"v","type":"quantitative","scale":{"domain":[0,0.6],"nice":false},
                              "axis":{"orient":"left","values":[0,0.2,0.4,0.6],"format":".1f","title":"detergent / PBS","tickSize":8,"labelPadding":8,"titlePadding":8}},
                         "y2":{"datum":0},
                         "fill":{"field":"grp","type":"nominal","scale":{"domain":["sham","1x CHI","2x CHI (1d)","2x CHI (7d)"],"range":["#8DBEF0","#DD6E66","#AAAAAA","#77E827"]},"legend":null},
                         "stroke":{"field":"grp","type":"nominal","scale":{"domain":["sham","1x CHI","2x CHI (1d)","2x CHI (7d)"],"range":["#3333DD","#E03A35","#222222","#4C9A2E"]},"legend":null}}},
            {"mark":{"type":"rule","strokeWidth":2},
             "encoding":{"x":{"field":"grp","type":"nominal","axis":{"orient":"top","domain":false,"ticks":false,"labels":false,"title":"PBS soluble / insoluble","titleX":-40,"titleY":-62,"titleAlign":"left","titleBaseline":"alphabetic","titleFontSize":32,"titleFontWeight":"normal"}},
                         "y":{"field":"v","type":"quantitative"},"y2":{"field":"hi"},
                         "stroke":{"field":"grp","type":"nominal","scale":{"domain":["sham","1x CHI","2x CHI (1d)","2x CHI (7d)"],"range":["#3333DD","#E03A35","#222222","#4C9A2E"]},"legend":null}}},
            {"mark":{"type":"point","shape":"M-1,0L1,0","size":64,"strokeWidth":2,"filled":false,"opacity":1},
             "encoding":{"x":{"field":"grp","type":"nominal","axis":null},"y":{"field":"hi","type":"quantitative"},
                         "stroke":{"field":"grp","type":"nominal","scale":{"domain":["sham","1x CHI","2x CHI (1d)","2x CHI (7d)"],"range":["#3333DD","#E03A35","#222222","#4C9A2E"]},"legend":null}}}
           ]
          },
          {
           "width": 106, "height": 330,
           "data": {"name":"tau"},
           "transform": [{"filter":"datum.panel === 'E' && datum.frac === 'total Tau'"}],
           "resolve": {"axis": {"x":"independent"}},
           "layer": [
            {"mark":{"type":"bar","strokeWidth":2},
             "encoding":{"x":{"field":"grp","type":"nominal","scale":{"domain":["sham","1x CHI","2x CHI (1d)","2x CHI (7d)"],"paddingInner":0.34,"paddingOuter":0.5},
                              "axis":{"title":"total Tau","labels":false,"ticks":false,"titleFontWeight":"normal","titlePadding":14,"titleX":62}},
                         "y":{"field":"v","type":"quantitative","scale":{"domain":[0,1500],"nice":false},
                              "axis":{"orient":"right","values":[0,500,1000,1500],"format":"d","title":"detergent / PBS","tickSize":10,"labelPadding":2,"titlePadding":8.5}},
                         "y2":{"datum":0},
                         "fill":{"field":"grp","type":"nominal","scale":{"domain":["sham","1x CHI","2x CHI (1d)","2x CHI (7d)"],"range":["#8DBEF0","#DD6E66","#AAAAAA","#77E827"]},"legend":null},
                         "stroke":{"field":"grp","type":"nominal","scale":{"domain":["sham","1x CHI","2x CHI (1d)","2x CHI (7d)"],"range":["#3333DD","#E03A35","#222222","#4C9A2E"]},"legend":null}}},
            {"mark":{"type":"rule","strokeWidth":2},
             "encoding":{"x":{"field":"grp","type":"nominal","axis":null},"y":{"field":"v","type":"quantitative"},"y2":{"field":"hi"},
                         "stroke":{"field":"grp","type":"nominal","scale":{"domain":["sham","1x CHI","2x CHI (1d)","2x CHI (7d)"],"range":["#3333DD","#E03A35","#222222","#4C9A2E"]},"legend":null}}},
            {"mark":{"type":"point","shape":"M-1,0L1,0","size":64,"strokeWidth":2,"filled":false,"opacity":1},
             "encoding":{"x":{"field":"grp","type":"nominal","axis":null},"y":{"field":"hi","type":"quantitative"},
                         "stroke":{"field":"grp","type":"nominal","scale":{"domain":["sham","1x CHI","2x CHI (1d)","2x CHI (7d)"],"range":["#3333DD","#E03A35","#222222","#4C9A2E"]},"legend":null}}},
            {"mark":{"type":"text","fontSize":28,"dy":-3},
             "encoding":{"x":{"field":"grp","type":"nominal","axis":null},"y":{"field":"hi","type":"quantitative"},"text":{"field":"sig"}}}
           ]
          }
         ],
         "spacing": 30, "bounds": "flush"
        },
        {
         "hconcat": [
          {
           "width": 111, "height": 330,
           "data": {"name":"tau"},
           "transform": [{"filter":"datum.panel === 'F' && datum.frac === 'PBS'"}],
           "title": {"text":"F:","dx":-85,"offset":-32},
           "resolve": {"axis": {"x":"independent"}},
           "layer": [
            {"mark":{"type":"bar","strokeWidth":2},
             "encoding":{"x":{"field":"grp","type":"nominal","scale":{"domain":["sham","1x CHI","2x CHI (1d)","2x CHI (7d)"],"paddingInner":0.34,"paddingOuter":0.6},
                              "axis":{"title":"PBS","labels":false,"ticks":false,"titleFontWeight":"normal","titlePadding":14}},
                         "y":{"field":"v","type":"quantitative","scale":{"domain":[0,0.2],"nice":false},
                              "axis":{"orient":"left","values":[0,0.05,0.1,0.15,0.2],"format":".2f","title":"ptau / total tau","tickSize":7,"labelPadding":1,"titlePadding":6}},
                         "y2":{"datum":0},
                         "fill":{"field":"grp","type":"nominal","scale":{"domain":["sham","1x CHI","2x CHI (1d)","2x CHI (7d)"],"range":["#8DBEF0","#DD6E66","#AAAAAA","#77E827"]},"legend":null},
                         "stroke":{"field":"grp","type":"nominal","scale":{"domain":["sham","1x CHI","2x CHI (1d)","2x CHI (7d)"],"range":["#3333DD","#E03A35","#222222","#4C9A2E"]},"legend":null}}},
            {"mark":{"type":"rule","strokeWidth":2},
             "encoding":{"x":{"field":"grp","type":"nominal","axis":{"orient":"top","domain":false,"ticks":false,"labels":false,"title":"ptau / total tau","titleX":-39,"titleY":-62,"titleAlign":"left","titleBaseline":"alphabetic","titleFontSize":32,"titleFontWeight":"normal"}},
                         "y":{"field":"v","type":"quantitative"},"y2":{"field":"hi"},
                         "stroke":{"field":"grp","type":"nominal","scale":{"domain":["sham","1x CHI","2x CHI (1d)","2x CHI (7d)"],"range":["#3333DD","#E03A35","#222222","#4C9A2E"]},"legend":null}}},
            {"mark":{"type":"point","shape":"M-1,0L1,0","size":64,"strokeWidth":2,"filled":false,"opacity":1},
             "encoding":{"x":{"field":"grp","type":"nominal","axis":null},"y":{"field":"hi","type":"quantitative"},
                         "stroke":{"field":"grp","type":"nominal","scale":{"domain":["sham","1x CHI","2x CHI (1d)","2x CHI (7d)"],"range":["#3333DD","#E03A35","#222222","#4C9A2E"]},"legend":null}}},
            {"mark":{"type":"text","fontSize":28,"dy":-10},
             "encoding":{"x":{"field":"grp","type":"nominal","axis":null},"y":{"field":"hi","type":"quantitative"},"text":{"field":"sig"}}}
           ]
          },
          {
           "width": 103, "height": 330,
           "data": {"name":"tau"},
           "transform": [{"filter":"datum.panel === 'F' && datum.frac === 'detergent'"}],
           "resolve": {"axis": {"x":"independent"}},
           "layer": [
            {"mark":{"type":"bar","strokeWidth":2},
             "encoding":{"x":{"field":"grp","type":"nominal","scale":{"domain":["sham","1x CHI","2x CHI (1d)","2x CHI (7d)"],"paddingInner":0.34,"paddingOuter":0.5},
                              "axis":{"title":"detergent","labels":false,"ticks":false,"titleFontWeight":"normal","titlePadding":14,"titleX":58}},
                         "y":{"field":"v","type":"quantitative","scale":{"domain":[0.00006,0.0001],"nice":false,"zero":false},
                              "axis":{"orient":"right","values":[0.00006,0.00007,0.00008,0.00009,0.0001],"labelExpr":"datum.value > 0.0000995 ? '1×10⁻⁴' : format(datum.value*100000,'.0f') + '×10⁻⁵'","title":"ptau / total tau","tickSize":10,"labelPadding":7,"titlePadding":4}},
                         "y2":{"datum":0.00006},
                         "fill":{"field":"grp","type":"nominal","scale":{"domain":["sham","1x CHI","2x CHI (1d)","2x CHI (7d)"],"range":["#8DBEF0","#DD6E66","#AAAAAA","#77E827"]},"legend":null},
                         "stroke":{"field":"grp","type":"nominal","scale":{"domain":["sham","1x CHI","2x CHI (1d)","2x CHI (7d)"],"range":["#3333DD","#E03A35","#222222","#4C9A2E"]},"legend":null}}},
            {"mark":{"type":"rule","strokeWidth":2},
             "encoding":{"x":{"field":"grp","type":"nominal","axis":null},"y":{"field":"v","type":"quantitative"},"y2":{"field":"hi"},
                         "stroke":{"field":"grp","type":"nominal","scale":{"domain":["sham","1x CHI","2x CHI (1d)","2x CHI (7d)"],"range":["#3333DD","#E03A35","#222222","#4C9A2E"]},"legend":null}}},
            {"mark":{"type":"point","shape":"M-1,0L1,0","size":64,"strokeWidth":2,"filled":false,"opacity":1},
             "encoding":{"x":{"field":"grp","type":"nominal","axis":null},"y":{"field":"hi","type":"quantitative"},
                         "stroke":{"field":"grp","type":"nominal","scale":{"domain":["sham","1x CHI","2x CHI (1d)","2x CHI (7d)"],"range":["#3333DD","#E03A35","#222222","#4C9A2E"]},"legend":null}}}
           ]
          }
         ],
         "spacing": 14, "bounds": "flush"
        }
       ],
       "spacing": 9
      }
     ],
     "spacing": 16
    }
   ],
   "spacing": 22
  }
 ],
 "spacing": 22,
 "resolve": {"scale": {"fill": "independent", "stroke": "independent"}},
 "config": {
  "view": {"stroke": null},
  "font": "Liberation Sans, DejaVu Sans",
  "axis": {"domainColor":"#000000","domainWidth":4,"tickColor":"#000000","tickWidth":3,"labelFont":"Liberation Sans, DejaVu Sans","labelFontSize":27,"labelColor":"#000000","titleFont":"Liberation Sans, DejaVu Sans","titleFontSize":27,"titleFontWeight":"bold","titleColor":"#000000","grid":false,"labelOverlap":false,"labelFlush":false},
  "title": {"font":"Liberation Sans, DejaVu Sans","fontSize":32,"fontWeight":"bold","color":"#000000","anchor":"start","frame":"group"},
  "text": {"font":"Liberation Sans, DejaVu Sans","fontSize":27,"color":"#000000"},
  "legend": {"labelFont":"Liberation Sans, DejaVu Sans"}
 }
}
